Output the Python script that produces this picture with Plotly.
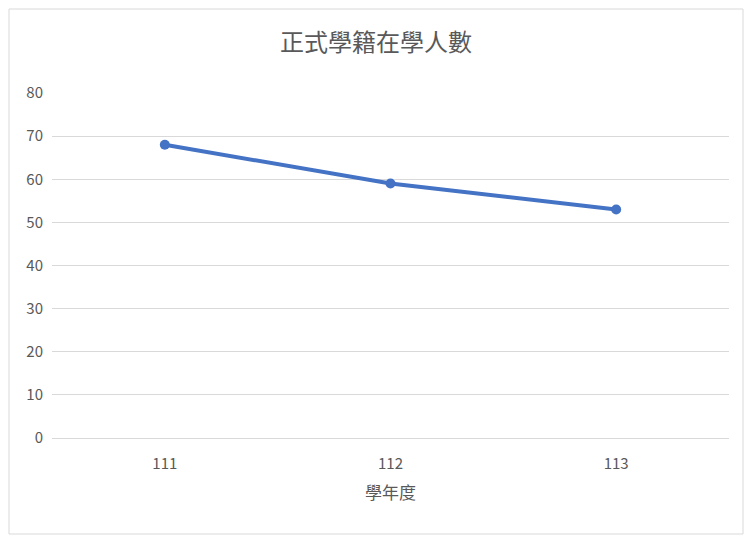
import plotly.graph_objects as go

years = ["111", "112", "113"]
students = [68, 59, 53]

font = "Noto Sans CJK TC"
grey = "#595959"

fig = go.Figure()
fig.add_trace(go.Scatter(
    x=years, y=students, mode="lines+markers",
    line=dict(color="#4472C4", width=4),
    marker=dict(size=10, color="#4472C4"),
    cliponaxis=False,
))
for yr, v in zip(years, students):
    fig.add_annotation(x=yr, y=v, text=str(v), showarrow=False, yshift=27,
                       font=dict(size=15, color="#404040", family=font))

fig.update_layout(
    width=736, height=527,
    margin=dict(l=44, r=15, t=85, b=97),
    paper_bgcolor="white", plot_bgcolor="white",
    font=dict(family=font, color=grey, size=15),
    showlegend=False,
    title=dict(text="正式學籍在學人數", x=0.5, xanchor="center",
               y=1 - 35/527, yanchor="middle",
               font=dict(size=24, color=grey, family=font)),
    xaxis=dict(type="category", range=[-0.5, 2.5], showgrid=False,
               showline=True, linecolor="#d9d9d9",
               title=dict(text="學年度", font=dict(size=17, color=grey)),
               ticks="", ticklabelstandoff=12),
    yaxis=dict(range=[0, 80], dtick=10, gridcolor="#d9d9d9", zeroline=False,
               ticks="", ticklabelstandoff=8),
    shapes=[dict(type="rect", xref="paper", yref="paper",
                 x0=-43/677, x1=1+14/677, y0=-96/345, y1=1+84/345,
                 line=dict(color="#d9d9d9", width=1))],
)

fig.write_html("out.html")
